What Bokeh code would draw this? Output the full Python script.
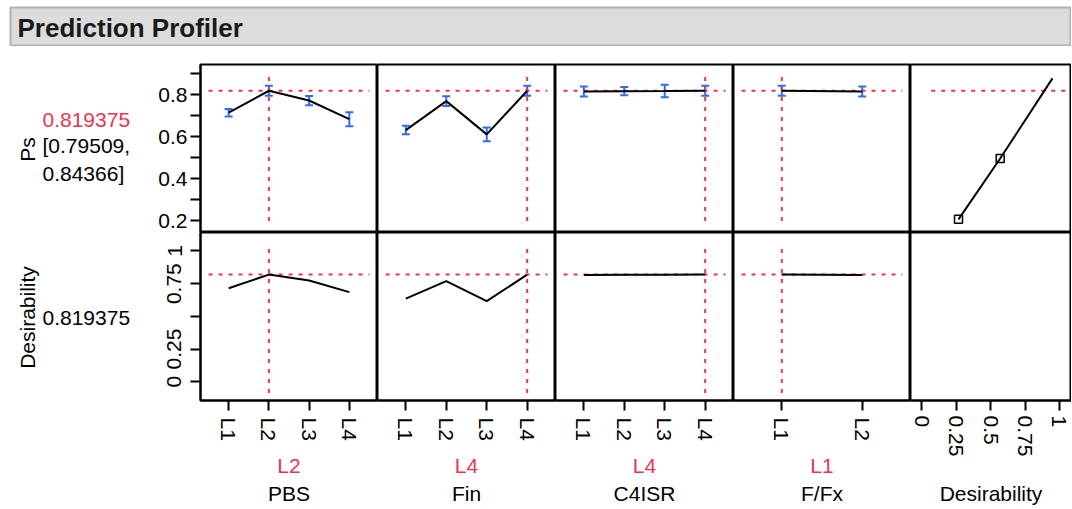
from bokeh.plotting import figure
from bokeh.models import (Range1d, FactorRange, FixedTicker, Whisker, ColumnDataSource,
                          TeeHead, CategoricalAxis, LinearAxis, NumeralTickFormatter)
from bokeh.layouts import row, column
from bokeh.embed import file_html
from bokeh.resources import INLINE
from bokeh.core.properties import value

# ---------------- data ----------------
factor_names = ["PBS", "Fin", "C4ISR", "F/Fx"]
pbs_levels = ["L1", "L2", "L3", "L4"]
fin_levels = ["L1", "L2", "L3", "L4"]
c4isr_levels = ["L1", "L2", "L3", "L4"]
ffx_levels = ["L1", "L2"]
current_levels = ["L2", "L4", "L4", "L1"]

current_ps = 0.819375
current_ci = [0.79509, 0.84366]
current_des = 0.819375

ps_pbs = [0.715, 0.819375, 0.773, 0.684]
ps_pbs_lo = [0.697, 0.79509, 0.751, 0.651]
ps_pbs_hi = [0.733, 0.84366, 0.795, 0.717]

ps_fin = [0.632, 0.770, 0.612, 0.819375]
ps_fin_lo = [0.612, 0.747, 0.579, 0.79509]
ps_fin_hi = [0.653, 0.793, 0.645, 0.84366]

ps_c4isr = [0.816, 0.8175, 0.818, 0.819375]
ps_c4isr_lo = [0.792, 0.798, 0.788, 0.79509]
ps_c4isr_hi = [0.840, 0.837, 0.848, 0.84366]

ps_ffx = [0.819375, 0.8163]
ps_ffx_lo = [0.79509, 0.792]
ps_ffx_hi = [0.84366, 0.840]

des_pbs = [0.715, 0.819375, 0.774, 0.685]
des_fin = [0.636, 0.769, 0.616, 0.819375]
des_c4isr = [0.817, 0.818, 0.818, 0.819375]
des_ffx = [0.819375, 0.817]

# desirability function handles (x: desirability, y: Ps)
desfn_x = [0.268, 0.570, 0.949]
desfn_y = [0.208, 0.497, 0.878]

ps_ticks = [0.2, 0.4, 0.6, 0.8]
ps_minor_ticks = [0.3, 0.5, 0.7, 0.9]
des_ticks = [0, 0.25, 0.5, 0.75, 1]
des_row_ticks = [0, 0.25, 0.75, 1]
des_row_minor = [0.5]

# ---------------- style ----------------
FONT = "Liberation Sans"
RED = "#e8364f"
BLUE = "#2f6cf0"
FS = "21px"
DASH = "4 6"

FRAME_W = [177, 178, 178, 177, 161]
FRAME_H = 168
LEFT_AXIS = 60
LABEL_W = 140
TOP_GAP = 18
BOTTOM_AX = 46
BOTTOM_AX_DES = 62
STRIP_H = 63

PS_RANGE = (0.1453, 0.9442)
DES_RANGE = (-0.144, 1.1415)
DESX_RANGE = (-0.08, 1.087)


def base_fig(xr, yr, fw, fh, left=0, top=0, bottom=0, outline=True):
    p = figure(x_range=xr, y_range=yr, frame_width=fw, frame_height=fh,
               min_border_left=left, min_border_right=0, min_border_top=top,
               min_border_bottom=bottom, toolbar_location=None, tools="",
               output_backend="svg", x_axis_location=None, y_axis_location=None)
    p.grid.visible = False
    p.background_fill_color = "white"
    p.border_fill_color = "white"
    if outline:
        p.outline_line_color = "black"
        p.outline_line_width = 2
    else:
        p.outline_line_color = None
    return p


def style_axis(ax):
    ax.axis_line_color = "black"
    ax.axis_line_width = 2
    ax.major_tick_out = 10
    ax.major_tick_in = 0
    ax.minor_tick_out = 10
    ax.minor_tick_in = 0
    ax.major_tick_line_width = 2
    ax.minor_tick_line_width = 2
    ax.major_tick_line_color = "black"
    ax.minor_tick_line_color = "black"
    ax.major_label_text_font = FONT
    ax.major_label_text_font_size = FS
    ax.major_label_text_color = "black"
    return ax


columns = []
ps_data = [(pbs_levels, ps_pbs, ps_pbs_lo, ps_pbs_hi, des_pbs),
           (fin_levels, ps_fin, ps_fin_lo, ps_fin_hi, des_fin),
           (c4isr_levels, ps_c4isr, ps_c4isr_lo, ps_c4isr_hi, des_c4isr),
           (ffx_levels, ps_ffx, ps_ffx_lo, ps_ffx_hi, des_ffx)]

for i, (levels, ps, lo, hi, des) in enumerate(ps_data):
    left = LEFT_AXIS if i == 0 else 0
    xr = FactorRange(factors=levels, range_padding=0.1)
    cur = current_levels[i]
    n = len(levels)

    # ---- top cell: Ps
    pt = base_fig(xr, Range1d(*PS_RANGE), FRAME_W[i], FRAME_H, left=left, top=TOP_GAP)
    pt.line(x=[0, n], y=[current_ps, current_ps], line_color=RED, line_width=2, line_dash=DASH)
    pt.line(x=[cur, cur], y=[0.2, 0.9], line_color=RED, line_width=2, line_dash=DASH)
    src = ColumnDataSource(dict(x=levels, y=ps, lo=lo, hi=hi))
    pt.line("x", "y", source=src, line_color="black", line_width=2)
    pt.add_layout(Whisker(source=src, base="x", lower="lo", upper="hi",
                          line_color=BLUE, line_width=2,
                          upper_head=TeeHead(size=8, line_color=BLUE, line_width=2),
                          lower_head=TeeHead(size=8, line_color=BLUE, line_width=2)))
    if i == 0:
        ax = LinearAxis(ticker=FixedTicker(ticks=ps_ticks, minor_ticks=ps_minor_ticks))
        style_axis(ax)
        ax.major_label_standoff = 3
        pt.add_layout(ax, "left")

    # ---- bottom cell: Desirability
    pb = base_fig(xr, Range1d(*DES_RANGE), FRAME_W[i], FRAME_H, left=left, bottom=BOTTOM_AX)
    pb.line(x=[0, n], y=[current_des, current_des], line_color=RED, line_width=2, line_dash=DASH)
    pb.line(x=[cur, cur], y=[-0.087, 1.06], line_color=RED, line_width=2, line_dash=DASH)
    pb.line(x=levels, y=des, line_color="black", line_width=2)
    xax = CategoricalAxis()
    style_axis(xax)
    xax.major_label_orientation = "vertical"
    xax.major_label_standoff = 7
    pb.add_layout(xax, "below")
    if i == 0:
        yax = LinearAxis(ticker=FixedTicker(ticks=des_row_ticks, minor_ticks=des_row_minor),
                         formatter=NumeralTickFormatter(format="0.[00]"))
        style_axis(yax)
        yax.major_label_orientation = "parallel"
        yax.major_label_standoff = 9
        pb.add_layout(yax, "left")

    # ---- strip with current level + factor name
    ps_ = base_fig(Range1d(0, 1), Range1d(STRIP_H, 0), FRAME_W[i], STRIP_H, left=left, outline=False)
    ps_.text(x=[0.5], y=[19], text=[cur], text_color=RED, text_font=value(FONT),
             text_font_size=FS, text_align="center", text_baseline="middle")
    ps_.text(x=[0.5], y=[47], text=[factor_names[i]], text_color="black", text_font=value(FONT),
             text_font_size=FS, text_align="center", text_baseline="middle")
    columns.append(column(pt, pb, ps_, spacing=0))

# ---- desirability column
i = 4
pt = base_fig(Range1d(*DESX_RANGE), Range1d(*PS_RANGE), FRAME_W[i], FRAME_H, top=TOP_GAP)
pt.line(x=[0.07, 1.1], y=[current_ps, current_ps], line_color=RED, line_width=2, line_dash=DASH)
pt.line(x=desfn_x, y=desfn_y, line_color="black", line_width=2)
pt.scatter(x=desfn_x[:2], y=desfn_y[:2], marker="square", size=8, fill_color=None,
           line_color="black", line_width=1.5)
pb = base_fig(Range1d(*DESX_RANGE), Range1d(*DES_RANGE), FRAME_W[i], FRAME_H, bottom=BOTTOM_AX_DES)
dax = LinearAxis(ticker=FixedTicker(ticks=des_ticks), formatter=NumeralTickFormatter(format="0.[00]"))
style_axis(dax)
dax.major_label_orientation = "vertical"
dax.major_label_standoff = 5
pb.add_layout(dax, "below")
strip_h5 = STRIP_H - (BOTTOM_AX_DES - BOTTOM_AX)
ps_ = base_fig(Range1d(0, 1), Range1d(strip_h5, 0), FRAME_W[i], strip_h5, outline=False)
ps_.text(x=[0.5], y=[31], text=["Desirability"], text_color="black", text_font=value(FONT),
         text_font_size=FS, text_align="center", text_baseline="middle")
columns.append(column(pt, pb, ps_, spacing=0))

# ---- left row labels
top_h = TOP_GAP + FRAME_H
lt = base_fig(Range1d(0, LABEL_W), Range1d(top_h, 0), LABEL_W, top_h, outline=False)
lt.text(x=[42], y=[73], text=[f"{current_ps:.6f}"], text_color=RED, text_font=value(FONT),
        text_font_size=FS, text_align="left", text_baseline="middle")
lt.text(x=[42, 42], y=[99, 127], text=[f"[{current_ci[0]:.5f},", f"{current_ci[1]:.5f}]"],
        text_color="black", text_font=value(FONT), text_font_size=FS,
        text_align="left", text_baseline="middle")
lt.text(x=[27], y=[103], text=["Ps"], angle=1.5708, text_color="black", text_font=value(FONT),
        text_font_size=FS, text_align="center", text_baseline="middle")

bot_h = FRAME_H + BOTTOM_AX
lb = base_fig(Range1d(0, LABEL_W), Range1d(bot_h, 0), LABEL_W, bot_h, outline=False)
lb.text(x=[42], y=[85], text=[f"{current_des:.6f}"], text_color="black", text_font=value(FONT),
        text_font_size=FS, text_align="left", text_baseline="middle")
lb.text(x=[27], y=[85], text=["Desirability"], angle=1.5708, text_color="black",
        text_font=value(FONT), text_font_size=FS, text_align="center", text_baseline="middle")
left_col = column(lt, lb, spacing=0)

# ---- header
hdr_w = LABEL_W + LEFT_AXIS + sum(FRAME_W) - 10
hdr = figure(x_range=Range1d(0, hdr_w), y_range=Range1d(39, 0), frame_width=hdr_w,
             frame_height=39, min_border_left=10, min_border_top=7, min_border_right=0,
             min_border_bottom=0, toolbar_location=None, tools="",
             output_backend="svg", x_axis_location=None, y_axis_location=None)
hdr.grid.visible = False
hdr.background_fill_color = "#dcdcdc"
hdr.border_fill_color = "white"
hdr.outline_line_color = "#b0b0b0"
hdr.outline_line_width = 2
hdr.text(x=[7], y=[20], text=["Prediction Profiler"], text_color="#1a1a1a",
         text_font=value(FONT), text_font_size="26px", text_font_style="bold",
         text_align="left", text_baseline="middle")

layout = column(hdr, row(left_col, *columns, spacing=0), spacing=0)

with open("out.html", "w") as f:
    f.write(file_html(layout, INLINE))
